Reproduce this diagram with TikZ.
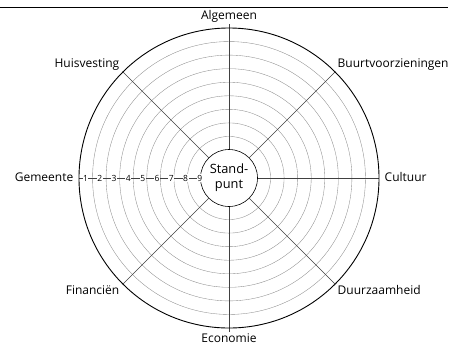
\documentclass[tikz,border=0pt]{standalone}
\usepackage{fontspec}
\setmainfont{Open Sans}
\begin{document}
\begin{tikzpicture}[x=1pt,y=-1pt,
  lbl/.style={font=\fontsize{12}{14}\selectfont, inner sep=1.5pt},
  num/.style={font=\fontsize{8.5}{10}\selectfont, fill=white, inner sep=0.5pt},
  ring/.style={draw=black!45, line width=0.35pt},
  spoke/.style={draw=black!75, line width=0.45pt}]
\useasboundingbox (0,0) rectangle (457,349);
\coordinate (top0) at (0,7);
\coordinate (top1) at (448,7);
\draw[line width=0.9pt] (top0) -- (top1);
\coordinate (c) at (229,178);
% rings
\foreach \i in {1,...,8}{
  \draw[ring] (c) circle ({28+\i*122/9});
}
% spokes
\path (c) ++(0,-150) coordinate (oT);
\path (c) ++(0,150) coordinate (oB);
\path (c) ++(150,0) coordinate (oR);
\path (c) ++(-150,0) coordinate (oL);
\path (c) ++(-45:150) coordinate (oTR);
\path (c) ++(-135:150) coordinate (oTL);
\path (c) ++(45:150) coordinate (oBR);
\path (c) ++(135:150) coordinate (oBL);
\path (c) ++(0,-154) coordinate (eT);
\path (c) ++(0,154) coordinate (eB);
\path (c) ++(0,-28) coordinate (iT);
\path (c) ++(0,28) coordinate (iB);
\path (c) ++(28,0) coordinate (iR);
\path (c) ++(-28,0) coordinate (iL);
\path (c) ++(-45:28) coordinate (iTR);
\path (c) ++(-135:28) coordinate (iTL);
\path (c) ++(45:28) coordinate (iBR);
\path (c) ++(135:28) coordinate (iBL);
\draw[spoke] (iT) -- (eT);
\draw[spoke] (iB) -- (eB);
\draw[spoke] (iR) -- (oR);
\draw[spoke] (iL) -- (oL);
\draw[spoke] (iTR) -- (oTR);
\draw[spoke] (iTL) -- (oTL);
\draw[spoke] (iBR) -- (oBR);
\draw[spoke] (iBL) -- (oBL);
% outer and inner circle
\draw[line width=0.9pt] (c) circle (150);
\node[draw, circle, fill=white, line width=0.6pt, minimum size=57pt, inner sep=0pt,
  align=center, font=\fontsize{12.8}{15}\selectfont] (sp) at (c) {Stand-\\punt};
% numbers
\foreach \n [evaluate=\n as \xx using {85.5+(\n-1)*14.3}] in {1,...,9}{
  \node[num] (n\n) at (\xx,178) {\n};
}
% labels
\node[lbl, anchor=south] (alg) at (229,24) {Algemeen};
\node[lbl, anchor=north] (eco) at (229,332) {Economie};
\node[lbl, anchor=east] (gem) at (75,177) {Gemeente};
\node[lbl, anchor=west] (cul) at (383,177) {Cultuur};
\node[lbl, anchor=south east] (hui) at (121,72) {Huisvesting};
\node[lbl, anchor=south west] (buu) at (336,72) {Buurtvoorzieningen};
\node[lbl, anchor=north east] (fin) at (121,284) {Financiën};
\node[lbl, anchor=north west] (duu) at (336,284) {Duurzaamheid};
\end{tikzpicture}
\end{document}
